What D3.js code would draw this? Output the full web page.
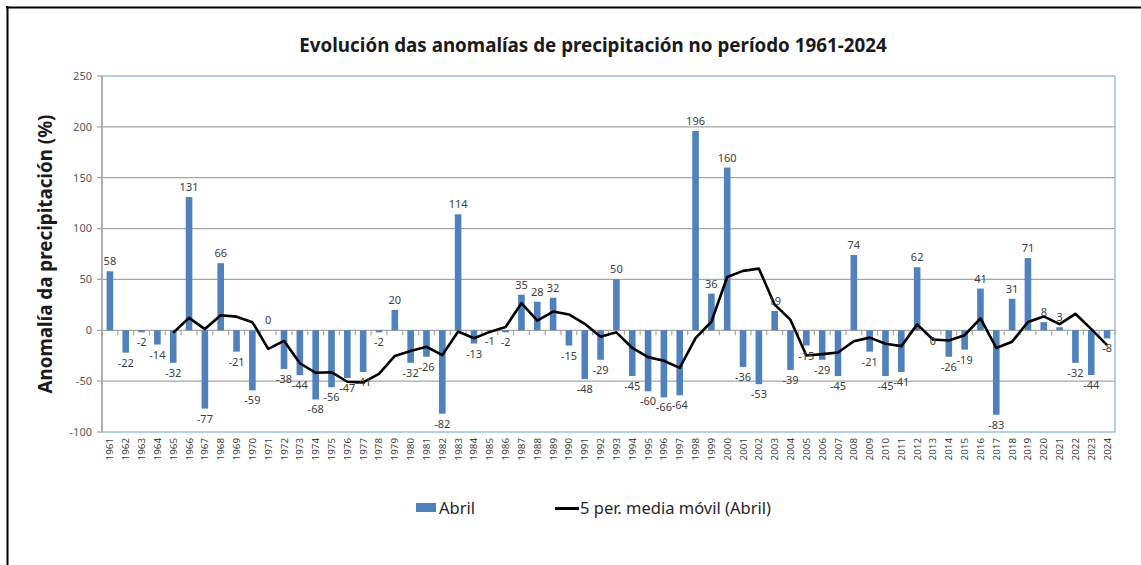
<!doctype html>
<html>
<head>
<meta charset="UTF-8">
<title>Anomalías de precipitación</title>
<script src="https://d3js.org/d3.v7.min.js"></script>
<style>
	body {
		margin: 0;
		background: #fff;
	}
	.chart text {
		font-family: 'Noto Sans', sans-serif;
	}
	.grid line {
		stroke: #a6a6a6;
		stroke-width: 1.3;
	}
	.ylab text {
		font-size: 11px;
		fill: #595959;
	}
	.xlab text {
		font-size: 9.8px;
		fill: #404040;
	}
	.vals text {
		font-size: 11px;
		fill: #404040;
	}
</style>
</head>

<body>
	<svg class="chart" width="1141" height="565"></svg>
<script>
var years = [1961, 1962, 1963, 1964, 1965, 1966, 1967, 1968, 1969, 1970,
	1971, 1972, 1973, 1974, 1975, 1976, 1977, 1978, 1979, 1980,
	1981, 1982, 1983, 1984, 1985, 1986, 1987, 1988, 1989, 1990,
	1991, 1992, 1993, 1994, 1995, 1996, 1997, 1998, 1999, 2000,
	2001, 2002, 2003, 2004, 2005, 2006, 2007, 2008, 2009, 2010,
	2011, 2012, 2013, 2014, 2015, 2016, 2017, 2018, 2019, 2020,
	2021, 2022, 2023, 2024];
// 2013 aparece como 0 pero con la etiqueta debajo: ligeramente negativo
var abril = [58, -22, -2, -14, -32, 131, -77, 66, -21, -59,
	0, -38, -44, -68, -56, -47, -41, -2, 20, -32,
	-26, -82, 114, -13, -1, -2, 35, 28, 32, -15,
	-48, -29, 50, -45, -60, -66, -64, 196, 36, 160,
	-36, -53, 19, -39, -15, -29, -45, 74, -21, -45,
	-41, 62, -0.3, -26, -19, 41, -83, 31, 71, 8,
	3, -32, -44, -8];
// media movil de 5 periodos (desde 1965)
var mediaMovil = [null, null, null, null, -2.4, 12.2, 1.2, 14.8, 13.4, 8.0,
	-18.2, -10.4, -32.4, -41.8, -41.2, -50.6, -51.2, -42.8, -25.2, -20.4,
	-16.2, -24.4, -1.2, -7.8, -1.6, 3.2, 26.6, 9.4, 18.4, 15.6,
	6.4, -6.4, -2.0, -17.4, -26.4, -30.0, -37.0, -7.8, 8.4, 52.4,
	58.4, 60.6, 25.2, 10.2, -24.8, -23.4, -21.8, -10.8, -7.2, -13.2,
	-15.6, 5.8, -9.0, -10.0, -4.8, 11.6, -17.4, -11.2, 8.2, 13.6,
	6.0, 16.2, 1.2, -14.6];
var yTicks = [-100, -50, 0, 50, 100, 150, 200, 250];

var chart = d3.select('.chart');
var plotL = 102, plotR = 1115, plotT = 76, plotB = 432;

var x = d3.scaleBand()
	.domain(years)
	.range([plotL, plotR])
	.paddingInner(140 / 240)
	.paddingOuter(70 / 240);
var y = d3.scaleLinear()
	.domain([-100, 250])
	.range([plotB, plotT]);
var step = x.step();

// marco exterior
chart.append('line').attr('x1', 6).attr('x2', 1141).attr('y1', 7.5).attr('y2', 7.5)
	.attr('stroke', '#000').attr('stroke-width', 2);
chart.append('line').attr('x1', 7.5).attr('x2', 7.5).attr('y1', 6).attr('y2', 565)
	.attr('stroke', '#000').attr('stroke-width', 2);

// titulo
chart.append('text')
	.attr('x', 593)
	.attr('y', 52)
	.attr('text-anchor', 'middle')
	.style('font-size', '18.8px')
	.style('font-weight', 'bold')
	.attr('fill', '#1a1a1a')
	.text('Evolución das anomalías de precipitación no período 1961-2024');

chart.append('text')
	.attr('transform', 'translate(52,254) rotate(-90)')
	.attr('text-anchor', 'middle')
	.style('font-size', '18.8px')
	.style('font-weight', 'bold')
	.attr('fill', '#1a1a1a')
	.text('Anomalía da precipitación (%)');

// cuadricula
chart.append('g')
	.attr('class', 'grid')
	.selectAll('line')
	.data(yTicks.filter(function(d) { return d > -100 && d < 250; }))
	.enter().append('line')
	.attr('x1', plotL - 5)
	.attr('x2', plotR)
	.attr('y1', function(d) { return y(d); })
	.attr('y2', function(d) { return y(d); });

// borde del area de trazado
chart.append('rect')
	.attr('x', plotL)
	.attr('y', plotT)
	.attr('width', plotR - plotL)
	.attr('height', plotB - plotT)
	.attr('fill', 'none')
	.attr('stroke', '#9dbfe8')
	.attr('stroke-width', 1.5);

// eje vertical
chart.append('line')
	.attr('x1', plotL).attr('x2', plotL)
	.attr('y1', plotT).attr('y2', plotB)
	.attr('stroke', '#a6a6a6').attr('stroke-width', 1.5);
chart.append('g')
	.selectAll('line')
	.data([-100, 250])
	.enter().append('line')
	.attr('x1', plotL - 5).attr('x2', plotL)
	.attr('y1', function(d) { return y(d); })
	.attr('y2', function(d) { return y(d); })
	.attr('stroke', '#a6a6a6').attr('stroke-width', 1.3);

chart.append('g')
	.attr('class', 'ylab')
	.selectAll('text')
	.data(yTicks)
	.enter().append('text')
	.attr('x', plotL - 10)
	.attr('y', function(d) { return y(d); })
	.attr('dy', '0.35em')
	.attr('text-anchor', 'end')
	.text(function(d) { return d; });

// marcas del eje de categorias en 0
chart.append('g')
	.selectAll('line')
	.data(d3.range(years.length + 1))
	.enter().append('line')
	.attr('x1', function(i) { return plotL + i * step; })
	.attr('x2', function(i) { return plotL + i * step; })
	.attr('y1', y(0))
	.attr('y2', y(0) + 5)
	.attr('stroke', '#a6a6a6').attr('stroke-width', 1.2);

// barras
var bars = chart.append('g');
bars.selectAll('rect')
	.data(abril)
	.enter().append('rect')
	.attr('x', function(d, i) { return x(years[i]); })
	.attr('y', function(d) { return y(Math.max(0, d)); })
	.attr('width', x.bandwidth())
	.attr('height', function(d) { return Math.abs(y(d) - y(0)); })
	.attr('fill', '#4f81bd');

// linea de media movil
var line = d3.line()
	.defined(function(d) { return d !== null; })
	.x(function(d, i) { return x(years[i]) + x.bandwidth() / 2; })
	.y(function(d) { return y(d); });
chart.append('path')
	.datum(mediaMovil)
	.attr('d', line)
	.attr('fill', 'none')
	.attr('stroke', '#000')
	.attr('stroke-width', 2.6)
	.attr('stroke-linejoin', 'round');

// etiquetas de datos
chart.append('g')
	.attr('class', 'vals')
	.selectAll('text')
	.data(abril)
	.enter().append('text')
	.attr('x', function(d, i) { return x(years[i]) + x.bandwidth() / 2; })
	.attr('y', function(d) { return d >= 0 ? y(d) - 6 : y(d) + 14; })
	.attr('text-anchor', 'middle')
	.text(function(d) { return String(Math.round(d)); });

// etiquetas de anos
chart.append('g')
	.attr('class', 'xlab')
	.selectAll('text')
	.data(years)
	.enter().append('text')
	.attr('transform', function(d) {
		return 'translate(' + (x(d) + x.bandwidth() / 2 + 3.5) + ',' + (plotB + 6) + ') rotate(-90)';
	})
	.attr('text-anchor', 'end')
	.text(function(d) { return d; });

// leyenda
var legend = chart.append('g').style('font-size', '16.5px');
legend.append('rect')
	.attr('x', 416).attr('y', 503)
	.attr('width', 20).attr('height', 9)
	.attr('fill', '#4f81bd');
legend.append('text')
	.attr('x', 439).attr('y', 514)
	.attr('fill', '#262626')
	.text('Abril');
legend.append('line')
	.attr('x1', 555).attr('x2', 579)
	.attr('y1', 508.5).attr('y2', 508.5)
	.attr('stroke', '#000').attr('stroke-width', 3);
legend.append('text')
	.attr('x', 580).attr('y', 514)
	.attr('fill', '#262626')
	.text('5 per. media móvil (Abril)');
</script>
</body>
</html>
